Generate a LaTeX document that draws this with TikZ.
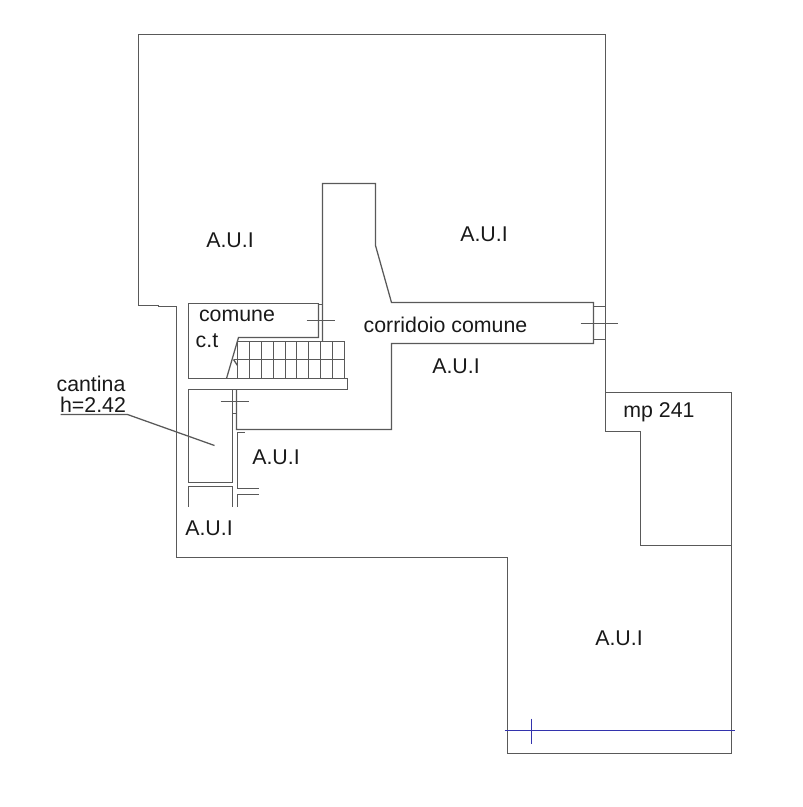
\documentclass[tikz,border=0pt]{standalone}
\usepackage{fontspec}
\setmainfont{Liberation Sans}
\usetikzlibrary{positioning}

\tikzset{
  wall/.style={draw=black!65, line width=0.95pt},
  blueline/.style={draw=blue!60!black!80, line width=1pt},
  lbl/.style={font=\fontsize{16}{18}\selectfont, inner sep=0pt, text=black!90}
}

\begin{document}
\begin{tikzpicture}[x=0.75pt, y=-0.75pt]
\useasboundingbox (0,0) rectangle (803,807);
\begin{scope}[shift={(0.5,0.5)}]
\draw[wall] (138,34) -- (605,34) -- (605,431) -- (640,431) -- (640,545) -- (731,545)
  -- (731,753) -- (507,753) -- (507,557) -- (176,557) -- (176,306) -- (158,306) -- (158,305) -- (138,305) -- cycle;
\draw[wall] (605,392) -- (731,392) -- (731,545);
% corridor
\draw[wall] (322,341) -- (322,183) -- (375,183) -- (375,245) -- (391,302) -- (593,302) -- (593,343) -- (391,343) -- (391,429) -- (236,429) -- (236,389);
\draw[wall] (593,306) -- (605,306);
\draw[wall] (593,339) -- (605,339);
\draw[wall] (580,323) -- (617,323);
% comune
\draw[wall] (318,303) -- (188,303) -- (188,378) -- (347,378) -- (347,389) -- (188,389) -- (188,482) -- (232,482) -- (232,389);
\draw[wall] (318,303) -- (318,337) -- (238,337) -- (226,378);
\draw[wall] (318,304) -- (322,304);
\draw[wall] (306,320) -- (334,320);
% stairs
\draw[wall] (237,341) -- (344,341) -- (344,378);
\draw[wall] (233,359) -- (344,359);
\draw[wall] (233,359) -- (237,365);
\foreach \sx in {237,249,261,273,285,296,308,320,332}
  \draw[wall] (\sx,341) -- (\sx,378);
% cantina
\draw[wall] (220,401) -- (248,401);
\draw[wall] (232,413) -- (236,413);
\draw[wall] (244,432) -- (237,432) -- (237,488) -- (258,488);
\draw[wall] (258,494) -- (237,494) -- (237,506);
\draw[wall] (188,506) -- (188,486) -- (232,486) -- (232,506);
\draw[wall] (60,414) -- (127,414) -- (214,445);
% blue line
\draw[blueline] (504,730) -- (734,730);
\draw[blueline] (531,718) -- (531,743);
\end{scope}
% labels
\node[lbl] (aui1) at (230,240) {A.U.I};
\node[lbl] (aui2) at (484,234) {A.U.I};
\node[lbl] (aui3) at (456,366) {A.U.I};
\node[lbl] (aui4) at (276,457) {A.U.I};
\node[lbl] (aui5) at (209,528) {A.U.I};
\node[lbl] (aui6) at (619,638) {A.U.I};
\node[lbl] (comune) at (237,316) {comune};
\node[lbl] (ct) at (207,341) {c.t};
\node[lbl] (corridoio) at (445.5,325) {corridoio comune};
\node[lbl] (mp) at (659,412) {mp 241};
\node[lbl] (cantina) at (91,384) {cantina};
\node[lbl] (altezza) at (93,405) {h=2.42};
\end{tikzpicture}
\end{document}
